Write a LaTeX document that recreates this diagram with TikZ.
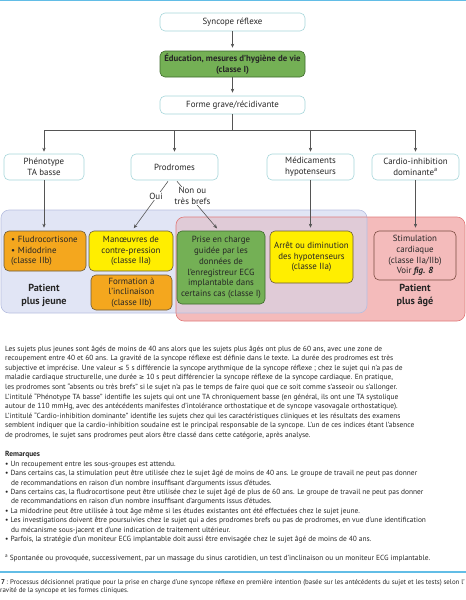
\documentclass[tikz,border=0pt]{standalone}
\usepackage{fontspec}
\setmainfont{PT Sans}
\newfontfamily\symf{DejaVu Sans}
\usetikzlibrary{arrows.meta,calc}
\definecolor{flowb}{HTML}{A6D6DA}
\definecolor{linec}{HTML}{555555}
\definecolor{greenf}{HTML}{74B055}
\definecolor{greenb}{HTML}{3E6B2C}
\definecolor{orangef}{HTML}{F4A71E}
\definecolor{yellowf}{HTML}{FFEE00}
\definecolor{boxb}{HTML}{6B5A3A}
\definecolor{bluef}{HTML}{E1E5F5}
\definecolor{blueb}{HTML}{B7BFE0}
\definecolor{pinkf}{HTML}{F4BBBB}
\definecolor{pinkb}{HTML}{E07A7A}
\definecolor{overf}{HTML}{E0CBD7}
\definecolor{stimb}{HTML}{7A4A40}
\definecolor{textc}{HTML}{262626}
\definecolor{rulec}{HTML}{62BDE6}
\newcommand\dfont{\fontsize{8.9}{10.7}\selectfont}
\newcommand\bfont{\fontsize{7.4}{9.5}\selectfont}
\newcommand\cfont{\fontsize{6.9}{8.5}\selectfont}
\newcommand\lefont{\symf\fontsize{6.6}{9.5}\selectfont}
\begin{document}
\begin{tikzpicture}[x=1pt,y=-1pt,
  flow/.style={draw=flowb, fill=white, rounded corners=5pt, line width=0.6pt, align=center, font=\dfont, text=textc, inner sep=1pt},
  cbox/.style={draw=boxb, rounded corners=5pt, line width=0.6pt, align=center, font=\dfont, text=textc, inner sep=1pt},
  arr/.style={draw=linec, line width=0.6pt, -{Stealth[length=4pt,width=3.4pt]}, shorten >=3pt},
  ln/.style={draw=linec, line width=0.6pt},
  lab/.style={fill=white, font=\dfont, text=textc, inner sep=0.5pt, align=center},
  big/.style={font=\fontsize{10.2}{13}\selectfont\bfseries, text=textc, align=center},
  txt/.style={font=\bfont, text=textc, anchor=base west, inner sep=0pt},
  captxt/.style={font=\cfont, text=textc, anchor=base west, inner sep=0pt},
  hrule/.style={draw=rulec, line width=1.8pt}]
\useasboundingbox (0,0) rectangle (466,600);
\draw[hrule, line width=1.4pt] (0,0.7) -- (466,0.7);

% top chain
\node[flow, minimum width=145pt, minimum height=18pt] (s1) at (232.5,22) {Syncope réflexe};
\node[flow, fill=greenf, draw=greenb, minimum width=145pt, minimum height=26pt, font=\fontsize{8.8}{10.5}\selectfont\bfseries] (s2) at (232.5,64) {Éducation, mesures d’hygiène de vie\\(classe I)};
\node[flow, minimum width=145pt, minimum height=18pt] (s3) at (232.5,105) {Forme grave/récidivante};
\draw[arr] (s1.south) -- (s2.north);
\draw[arr] (s2.south) -- (s3.north);

% second row
\node[flow, minimum width=80pt, minimum height=26pt] (p1) at (44,167) {Phénotype\\TA basse};
\node[flow, minimum width=87pt, minimum height=26pt] (p2) at (174.5,167) {Prodromes};
\node[flow, minimum width=87pt, minimum height=26pt] (p3) at (310.5,167) {Médicaments\\hypotenseurs};
\node[flow, minimum width=87pt, minimum height=26pt] (p4) at (415.5,167) {Cardio-inhibition\\dominante\textsuperscript{a}};
\coordinate (hj) at (232.5,130);
\draw[ln] (s3.south) -- (hj);
\draw[ln] (p1.north |- hj) -- (p4.north |- hj);
\foreach \p in {p1,p2,p3,p4} \draw[arr, shorten >=2pt] (\p.north |- hj) -- (\p.north);

% regions
\fill[bluef, rounded corners=8pt] (1,210) rectangle (367,313);
\fill[pinkf, rounded corners=8pt] (176,217) rectangle (465,321);
\begin{scope}
\clip[rounded corners=8pt] (1,210) rectangle (367,313);
\fill[overf, rounded corners=8pt] (176,217) rectangle (465,321);
\end{scope}
\draw[blueb, line width=0.6pt, rounded corners=8pt] (1,210) rectangle (367,313);
\draw[pinkb, line width=0.6pt, rounded corners=8pt] (176,217) rectangle (465,321);

% boxes
\node[cbox, fill=orangef, minimum width=82pt, minimum height=40pt, align=left, text width=68pt] (b1) at (45,251) {• Fludrocortisone\\• Midodrine\\(classe IIb)};
\node[cbox, fill=yellowf, minimum width=84pt, minimum height=40pt] (b2) at (131,251) {Manœuvres de\\contre-pression\\(classe IIa)};
\node[cbox, fill=orangef, minimum width=81pt, minimum height=35pt] (b3) at (131.5,292.5) {Formation à\\l’inclinaison\\(classe IIb)};
\node[cbox, fill=greenf, draw=greenb, minimum width=88pt, minimum height=73pt] (b4) at (221,267.5) {Prise en charge\\guidée par les\\données de\\l’enregistreur ECG\\implantable dans\\certains cas (classe I)};
\node[cbox, fill=yellowf, minimum width=83pt, minimum height=52pt] (b5) at (311.5,257) {Arrêt ou diminution\\des hypotenseurs\\(classe IIa)};
\node[cbox, fill=pinkf, draw=stimb, minimum width=82pt, minimum height=49pt] (b6) at (415,255.5) {Stimulation\\cardiaque\\(classe IIa/IIb)\\Voir \textbf{\textit{fig. 8}}};
\node[big] (t1) at (44,295.5) {Patient\\plus jeune};
\node[big] (t2) at (415,295.5) {Patient\\plus âgé};

% arrows to boxes
\draw[arr] (p1.south) -- (p1.south |- b1.north);
\draw[arr] (p3.south) -- (p3.south |- b5.north);
\draw[arr] (p4.south) -- (p4.south |- b6.north);
\draw[arr] ($(p2.south)+(-6.5,1)$) -- ($(b2.north)+(1,0)$);
\draw[arr] ($(p2.south)+(2.5,1)$) -- ($(b4.north)+(-2,0)$);
\node[lab] (oui) at (156,196) {Oui};
\node[lab] (non) at (192.5,196) {Non ou\\très brefs};

% text
\node[txt] (l1) at (5,351.3) {Les sujets plus jeunes sont âgés de moins de 40 ans alors que les sujets plus âgés ont plus de 60 ans, avec une zone de};
\node[txt] (l2) at (5,360.85) {recoupement entre 40 et 60 ans. La gravité de la syncope réflexe est définie dans le texte. La durée des prodromes est très};
\node[txt] (l3) at (5,370.4) {subjective et imprécise. Une valeur {\lefont ≤} 5 s différencie la syncope arythmique de la syncope réflexe ; chez le sujet qui n’a pas de};
\node[txt] (l4) at (5,379.95) {maladie cardiaque structurelle, une durée {\lefont ≥} 10 s peut différencier la syncope réflexe de la syncope cardiaque. En pratique,};
\node[txt] (l5) at (5,389.5) {les prodromes sont “absents ou très brefs” si le sujet n’a pas le temps de faire quoi que ce soit comme s’asseoir ou s’allonger.};
\node[txt] (l6) at (5,399.05) {L’intitulé “Phénotype TA basse” identifie les sujets qui ont une TA chroniquement basse (en général, ils ont une TA systolique};
\node[txt] (l7) at (5,408.6) {autour de 110 mmHg, avec des antécédents manifestes d’intolérance orthostatique et de syncope vasovagale orthostatique).};
\node[txt] (l8) at (5,418.15) {L’intitulé “Cardio-inhibition dominante” identifie les sujets chez qui les caractéristiques cliniques et les résultats des examens};
\node[txt] (l9) at (5,427.7) {semblent indiquer que la cardio-inhibition soudaine est le principal responsable de la syncope. L’un de ces indices étant l’absence};
\node[txt] (l10) at (5,437.25) {de prodromes, le sujet sans prodromes peut alors être classé dans cette catégorie, après analyse.};
\node[txt, font=\bfont\bfseries] (r0) at (5,456.7) {Remarques};
\node[txt] (r1) at (5,466.1) {• Un recoupement entre les sous-groupes est attendu.};
\node[txt] (r2) at (5,475.55) {• Dans certains cas, la stimulation peut être utilisée chez le sujet âgé de moins de 40 ans. Le groupe de travail ne peut pas donner};
\node[txt] (r3) at (11,485) {de recommandations en raison d’un nombre insuffisant d’arguments issus d’études.};
\node[txt] (r4) at (5,494.45) {• Dans certains cas, la fludrocortisone peut être utilisée chez le sujet âgé de plus de 60 ans. Le groupe de travail ne peut pas donner};
\node[txt] (r5) at (11,503.9) {de recommandations en raison d’un nombre insuffisant d’arguments issus d’études.};
\node[txt] (r6) at (5,513.35) {• La midodrine peut être utilisée à tout âge même si les études existantes ont été effectuées chez le sujet jeune.};
\node[txt] (r7) at (5,522.8) {• Les investigations doivent être poursuivies chez le sujet qui a des prodromes brefs ou pas de prodromes, en vue d’une identification};
\node[txt] (r8) at (11,532.25) {du mécanisme sous-jacent et d’une indication de traitement ultérieur.};
\node[txt] (r9) at (5,541.7) {• Parfois, la stratégie d’un moniteur ECG implantable doit aussi être envisagée chez le sujet âgé de moins de 40 ans.};
\node[txt] (fn) at (5,560.5) {\textsuperscript{a}\hspace{1.5pt}Spontanée ou provoquée, successivement, par un massage du sinus carotidien, un test d’inclinaison ou un moniteur ECG implantable.};

\draw[hrule] (0,572) -- (466,572);
\node[captxt] (c1) at (1,584) {\textbf{7}\,: Processus décisionnel pratique pour la prise en charge d’une syncope réflexe en première intention (basée sur les antécédents du sujet et les tests) selon l’};
\node[captxt] (c2) at (0,592.5) {ravité de la syncope et les formes cliniques.};
\end{tikzpicture}
\end{document}
